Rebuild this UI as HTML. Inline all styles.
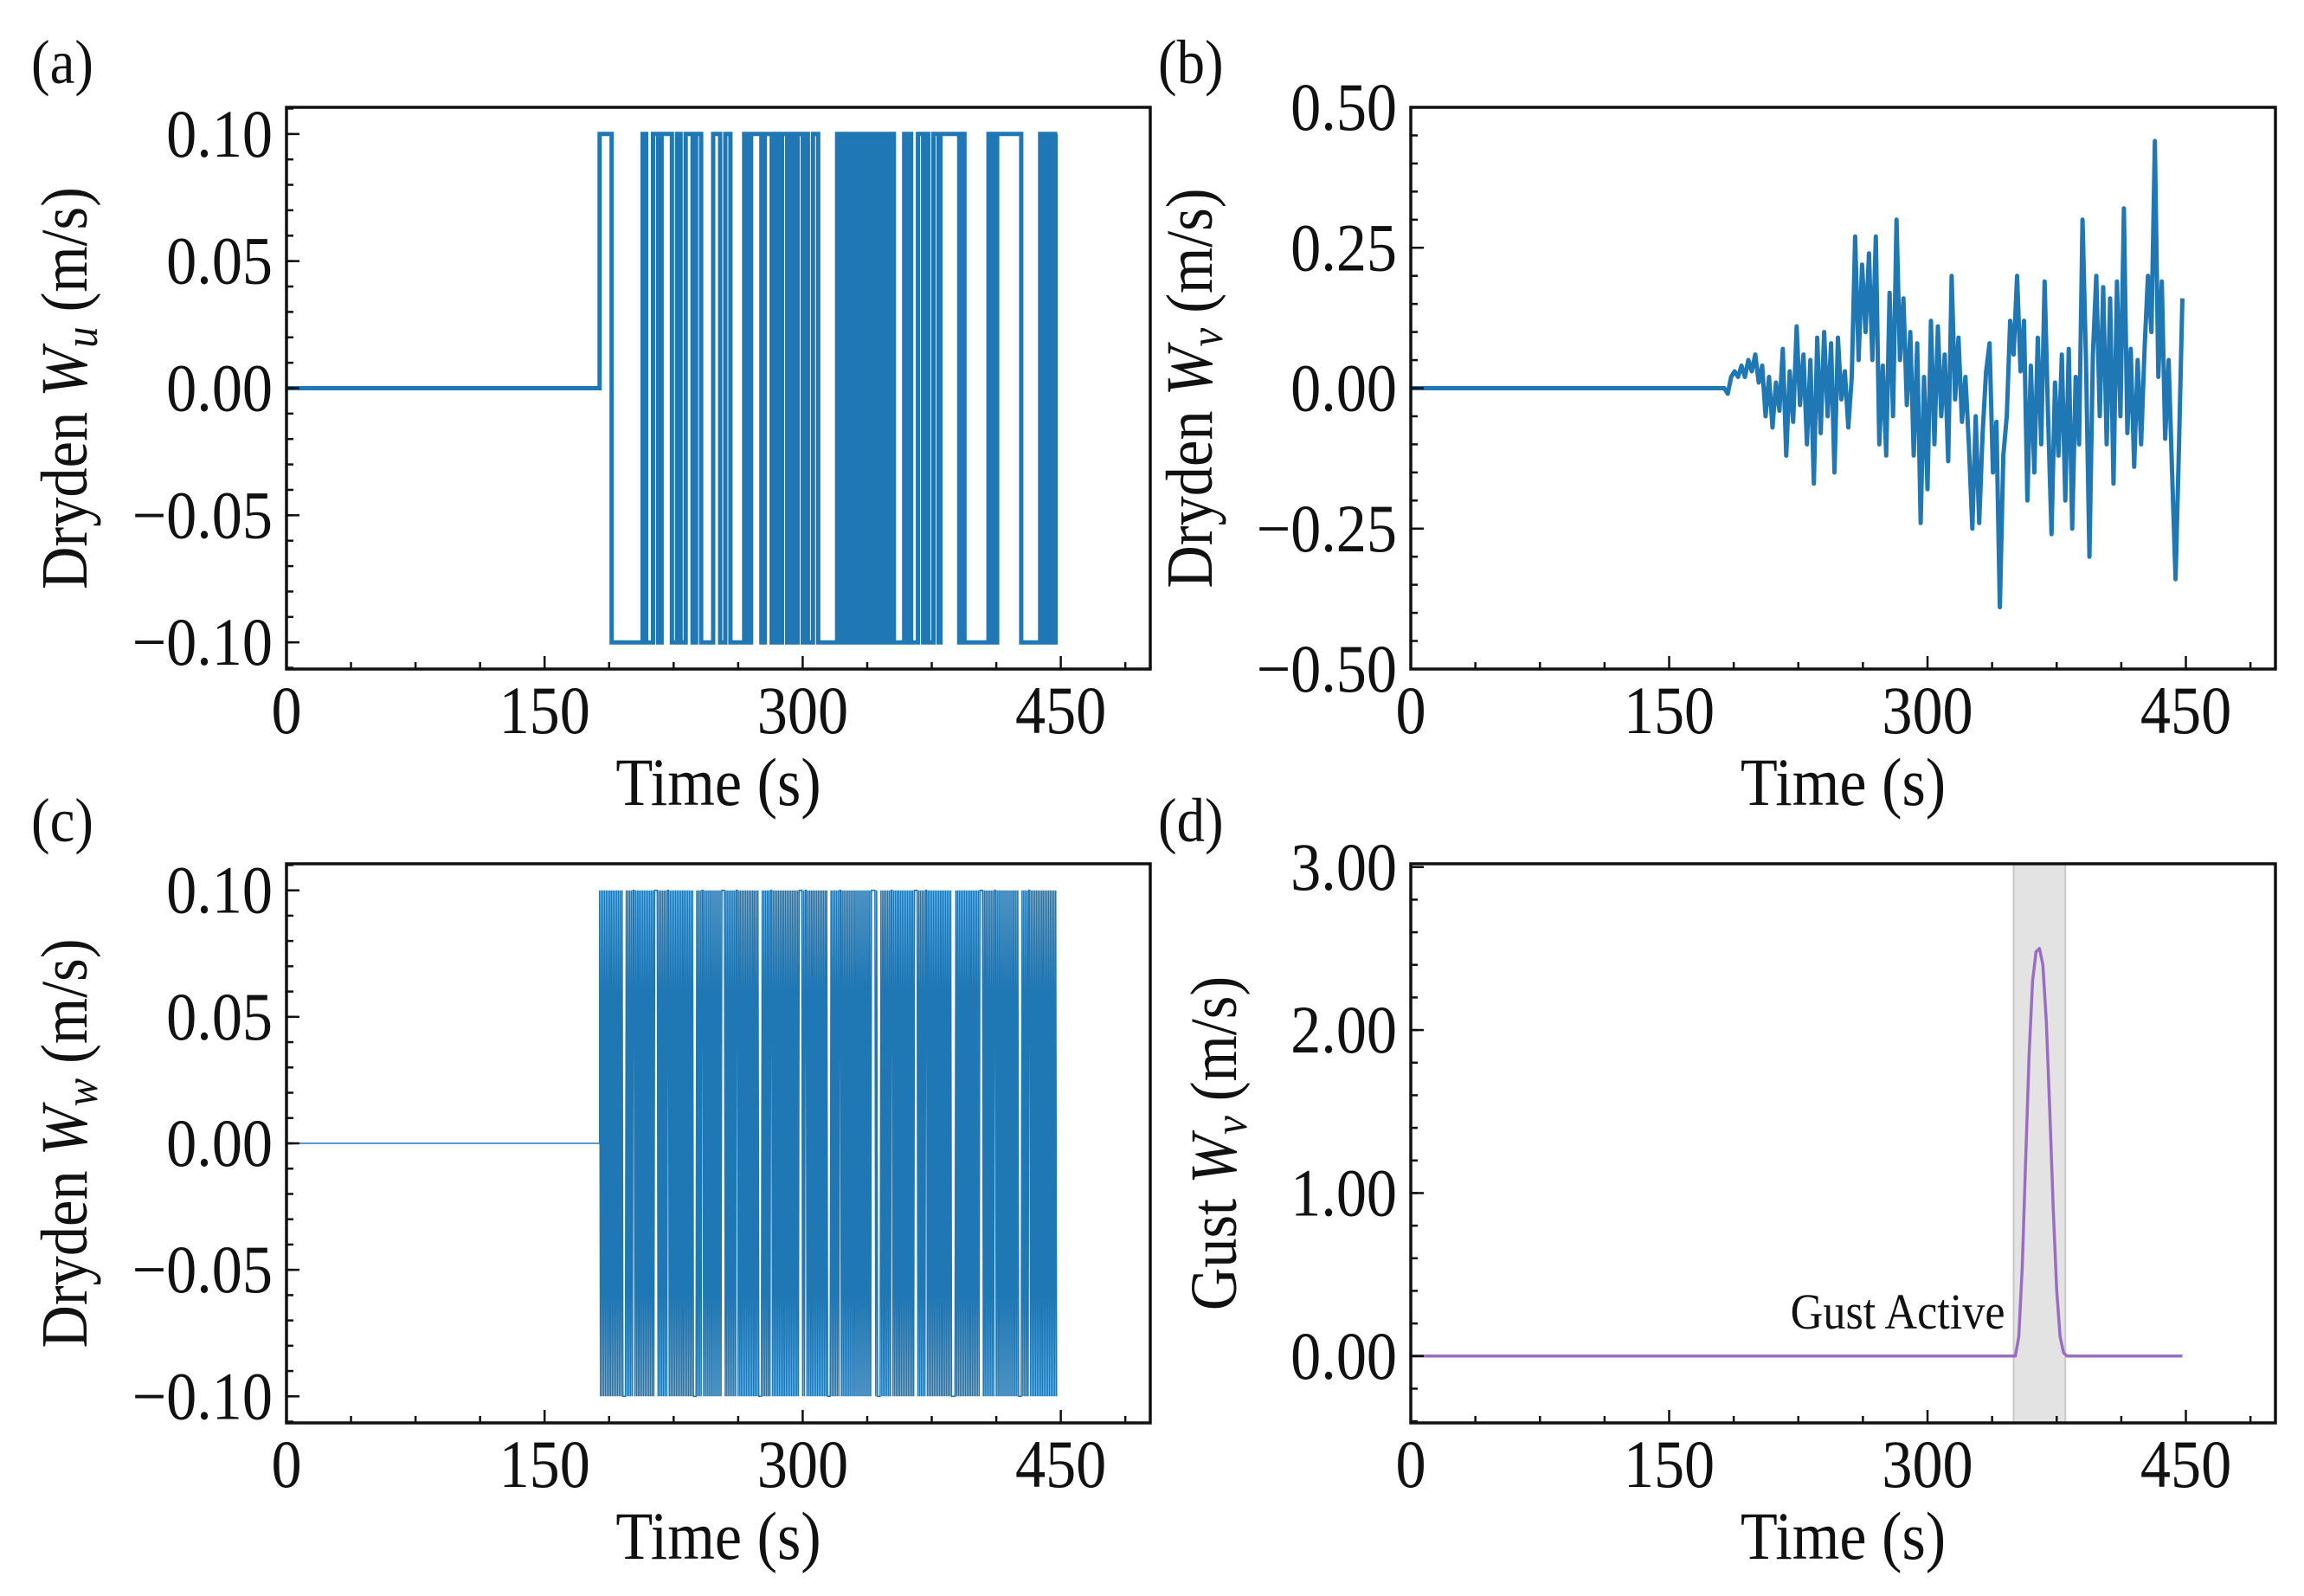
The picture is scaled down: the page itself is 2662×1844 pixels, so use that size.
<!DOCTYPE html>
<html><head><meta charset="utf-8">
<style>
html,body{margin:0;padding:0;background:#fff;}
svg{display:block;}
text{font-family:"Liberation Serif","DejaVu Serif",serif;fill:#111;}
</style></head>
<body>
<svg id="fig" xmlns="http://www.w3.org/2000/svg" width="2662" height="1844" viewBox="0 0 2662 1844"></svg>
<script>
// ---------- data ----------
const timeTicks = [0,150,300,450];
// (a) Dryden Wu: switching times (start high at first time, alternate)
const aToggleTimes = [182,189,207,209,213,216,218,224,227,229,232,236,238,241,248,252,255,258,266,268,270,276,278,282,284,286,288,291,293,295,297,300,302,303,306,309,320,322,324,326,327,328,329,331,332,333,334,335,336,338,339,340,341,342,343,344,346,347,348,349,351,353,359,361,362,363,367,370,371,373,376,379,380,391,392,394,408,409,410,412,413,427,438,439,440,441,442,443,444,445,447];
const aEnd = 448;
const aAmp = 0.1;
const aYTicks = [0.10,0.05,0.00,-0.05,-0.10];
const aYLabels = ["0.10","0.05","0.00","\u22120.05","\u22120.10"];
// (b) Dryden Wv: samples every 2 s from 182 s
const bStart = 182;
const bStep = 2;
const bValues = [0,-0.01,0.02,0.03,0.02,0.04,0.02,0.05,0.03,0.06,0.01,0.04,
-0.05,0.02,-0.07,0.01,-0.04,0.07,-0.12,0.03,-0.06,0.11,-0.03,0.06,-0.1,0.05,-0.17,0.09,-0.08,0.1,-0.05,0.08,-0.15,0.09,-0.02,0.03,-0.07,0.02,
0.27,0.05,0.22,0.1,0.24,0.05,0.27,-0.1,0.04,-0.12,0.17,-0.05,0.3,0.05,0.16,-0.03,0.1,-0.12,0.08,-0.24,0.02,-0.18,0.12,-0.1,0.11,-0.05,0.06,-0.13,0.2,-0.02,0.09,-0.06,0.02,-0.1,-0.25,-0.05,-0.24,-0.08,0.03,0.08,-0.15,-0.06,-0.39,-0.12,-0.05,0.12,0.06,0.2,0.03,0.12,-0.2,0.04,-0.15,0.09,-0.1,0.19,-0.05,-0.26,0.01,-0.12,0.06,-0.2,0.07,-0.25,0.02,-0.1,0.3,0.05,-0.3,0.06,0.2,-0.05,0.18,-0.1,0.16,-0.17,0.19,-0.05,0.32,-0.08,0.07,-0.14,0.05,-0.1,0.07,0.2,0.1,0.44,0.02,0.19,-0.09,0.05,-0.15,-0.34,-0.1,0.16];
const bYTicks = [0.5,0.25,0,-0.25,-0.5];
const bYLabels = ["0.50","0.25","0.00","\u22120.25","\u22120.50"];
// (c) Dryden Ww: state every 0.5 s from 182 s (H = +0.1, L = -0.1)
const cStart = 182;
const cStep = 0.5;
const cStates = [
"HLHLHLHLHLHLHLHLHLHL","HLHLHLHLLLLHLHLHLHLH","HLHLHLHLHLHLHLHLHLHL","HLHLHHHHLHLHLHLHLHLH",
"HLHLHLHLHLHLHLHLHLHL","HLHLHLHLHLLLLHLHLHLH","HLHLHLHLHLHLHLHLHLHL","HLHHHHLHLHLHLHLHLHLH",
"HLHLHLHLHLHLHLHLHLHL","HLHLHLLLLHLHLHLHLHLH","HLHLHLHLHLHLHLHLHLHL","HLHLHLHLHLHLHHHHLHLH",
"HLHLHLHLHLHLHLHLHLHL","HLHLHLLLLHLHLHLHLHLH","HLHLHLHLHLHLHLHLHLHL","HLHLHLHLHLHLHLHLHHHH",
"HLHLLLLHLHLHLHLHLHLH","HLHLHLHLHLHLHLHLHLHL","HLHLHLHHHHLHLHLHLHLH","HLHLHLHLHLHLHLHLHLHL",
"HLHLHLHLHLLLLLHLHLHL","HLHLHLHLHLHLHLHLHLHL","HLHHHHLHLHLHLHLHLHLH","HLHLHLHLHLHLHLHLHLHL",
"HLHLHLHLLLLHLHLHLHLH","HLHLHLHLHLHLHLHLHLHL","HLHLHLHLHLHL"].join("");
const cAmp = 0.1;
// (d) Gust Wv
const dTimes = [0,351,353,355,357,359,361,363,365,367,369,371,373,375,377,379,381,448];
const dValues = [0,0,0.12,0.55,1.2,1.85,2.3,2.48,2.5,2.4,2.05,1.5,0.9,0.4,0.12,0.02,0,0];
const dShade = [350,380];
const dYTicks = [3,2,1,0];
const dYLabels = ["3.00","2.00","1.00","0.00"];

// ---------- drawing ----------
const NS = "http://www.w3.org/2000/svg";
const svg = document.getElementById("fig");
function mk(tag, attrs, parent){
  const e = document.createElementNS(NS, tag);
  for (const k in attrs) e.setAttribute(k, attrs[k]);
  (parent||svg).appendChild(e);
  return e;
}
const SX = 0.9;
function txt(x, y, size, anchor, parent, rot){
  const tr = rot ? `translate(${x},${y}) rotate(-90) scale(${SX},1)` : `translate(${x},${y}) scale(${SX},1)`;
  return mk("text", {x:0, y:0, "font-size":size, "text-anchor":anchor, transform:tr}, parent);
}
const BLUE = "#1f77b4";
const XMAX = 502;

function makePanel(p){
  const g = mk("g", {});
  
  
  const X = t => p.x0 + (t/XMAX)*(p.x1-p.x0);
  const Y = v => p.y1 - (v-p.ymin)/(p.ymax-p.ymin)*(p.y1-p.y0);
  p.X = X; p.Y = Y; p.g = g;
  return p;
}
function finishPanel(p, yTicks, yLabels, yMinorStep, ylabelHTML, ylabelX){
  const g = p.g;
  const fr = mk("rect", {x:p.x0, y:p.y0, width:p.x1-p.x0, height:p.y1-p.y0, fill:"none", stroke:"#111", "stroke-width":3.5}, g);
  
  
  for (let t=0; t<=XMAX; t+=37.5){
    const major = Math.abs(t/150 - Math.round(t/150))<1e-6;
    const tk = mk("line", {x1:p.X(t), x2:p.X(t), y1:p.y1, y2:p.y1-(major?15:8), stroke:"#111", "stroke-width":2.5}, g);
    
    
  }
  timeTicks.forEach(t=>{
    const tx = txt(p.X(t), p.y1+74, 78, "middle", g);
    tx.textContent = String(t);
    
    
  });
  const lo = Math.ceil(p.ymin/yMinorStep - 1e-6), hi = Math.floor(p.ymax/yMinorStep + 1e-6);
  for (let i=lo;i<=hi;i++){
    const v = i*yMinorStep;
    const tk = mk("line", {x1:p.x0, x2:p.x0+8, y1:p.Y(v), y2:p.Y(v), stroke:"#111", "stroke-width":2.5}, g);
    
    
  }
  yTicks.forEach((v,i)=>{
    const tk = mk("line", {x1:p.x0, x2:p.x0+15, y1:p.Y(v), y2:p.Y(v), stroke:"#111", "stroke-width":2.5}, g);
    
    
    const tx = txt(p.x0-16, p.Y(v)+26, 78, "end", g);
    tx.textContent = yLabels[i];
    
    
  });
  const xl = txt((p.x0+p.x1)/2, p.y1+157, 78, "middle", g);
  xl.textContent = "Time (s)";
  
  
  const cy = (p.y0+p.y1)/2;
  const yl = txt(ylabelX, cy, 76, "middle", g, true);
  yl.innerHTML = ylabelHTML;
  
  
  const pl = txt(p.lx, p.ly, 72, "start", g);
  pl.textContent = p.letter;
  
  
}

// Panel (a)
const pa = makePanel({name:"panel-a", x0:331, x1:1329, y0:124, y1:773, ymin:-0.1105, ymax:0.1105, letter:"(a)", lx:36, ly:96});
{
  let pts = [[0,0],[aToggleTimes[0],0]];
  let s = aAmp;
  for (let i=0;i<aToggleTimes.length;i++){
    const t = aToggleTimes[i];
    const tn = i+1<aToggleTimes.length ? aToggleTimes[i+1] : aEnd;
    if (i>0) pts.push([t, -s]);
    pts.push([t, s]);
    pts.push([tn, s]);
    s = -s;
  }
  const d = pts.map((q,i)=>(i?"L":"M")+pa.X(q[0]).toFixed(1)+","+pa.Y(q[1]).toFixed(1)).join("");
  const ln = mk("path", {d, fill:"none", stroke:BLUE, "stroke-width":5, "stroke-linejoin":"miter"}, pa.g);
  
  
}
finishPanel(pa, aYTicks, aYLabels, 0.01, 'Dryden <tspan font-style="italic">W</tspan><tspan font-style="italic" font-size="54" dy="12">u</tspan><tspan dy="-12"> (m/s)</tspan>', 100);

// Panel (b)
const pb = makePanel({name:"panel-b", x0:1630, x1:2629, y0:124, y1:773, ymin:-0.5, ymax:0.5, letter:"(b)", lx:1338, ly:96});
{
  let pts = [[0,0]];
  bValues.forEach((v,i)=>pts.push([bStart+i*bStep, v]));
  const d = pts.map((q,i)=>(i?"L":"M")+pb.X(q[0]).toFixed(1)+","+pb.Y(q[1]).toFixed(1)).join("");
  const ln = mk("path", {d, fill:"none", stroke:BLUE, "stroke-width":5, "stroke-linejoin":"round"}, pb.g);
  
  
}
finishPanel(pb, bYTicks, bYLabels, 0.05, 'Dryden <tspan font-style="italic">W</tspan><tspan font-style="italic" font-size="54" dy="12">v</tspan><tspan dy="-12"> (m/s)</tspan>', 1400);

// Panel (c)
const pc = makePanel({name:"panel-c", x0:331, x1:1329, y0:998, y1:1644, ymin:-0.1105, ymax:0.1105, letter:"(c)", lx:36, ly:972});
{
  let d = "M"+pc.X(0)+","+pc.Y(0)+"L"+pc.X(cStart).toFixed(1)+","+pc.Y(0).toFixed(1);
  for (let i=0;i<cStates.length;i++){
    const v = cStates[i]==="H" ? cAmp : -cAmp;
    d += "L"+pc.X(cStart+i*cStep).toFixed(1)+","+pc.Y(v).toFixed(1);
  }
  const ln = mk("path", {d, fill:"none", stroke:BLUE, "stroke-width":1.6}, pc.g);
  
  
}
finishPanel(pc, aYTicks, aYLabels, 0.01, 'Dryden <tspan font-style="italic">W</tspan><tspan font-style="italic" font-size="54" dy="12">w</tspan><tspan dy="-12"> (m/s)</tspan>', 100);

// Panel (d)
const pd = makePanel({name:"panel-d", x0:1630, x1:2629, y0:998, y1:1644, ymin:-0.41, ymax:3.02, letter:"(d)", lx:1338, ly:972});
{
  const sh = mk("rect", {x:pd.X(dShade[0]), y:pd.y0, width:pd.X(dShade[1])-pd.X(dShade[0]), height:pd.y1-pd.y0, fill:"#e3e3e3", stroke:"#c8c8c8", "stroke-width":2}, pd.g);
  
  
  const d = dTimes.map((t,i)=>(i?"L":"M")+pd.X(t).toFixed(1)+","+pd.Y(dValues[i]).toFixed(1)).join("");
  const ln = mk("path", {d, fill:"none", stroke:"#9a6cc4", "stroke-width":3.5, "stroke-linejoin":"round"}, pd.g);
  
  
  const an = txt(pd.X(dShade[0])-10, pd.Y(0)-32, 58, "end", pd.g);
  an.textContent = "Gust Active";
  
  
}
finishPanel(pd, dYTicks, dYLabels, 0.2, 'Gust <tspan font-style="italic">W</tspan><tspan font-style="italic" font-size="54" dy="12">v</tspan><tspan dy="-12"> (m/s)</tspan>', 1428);
</script>
</body></html>
